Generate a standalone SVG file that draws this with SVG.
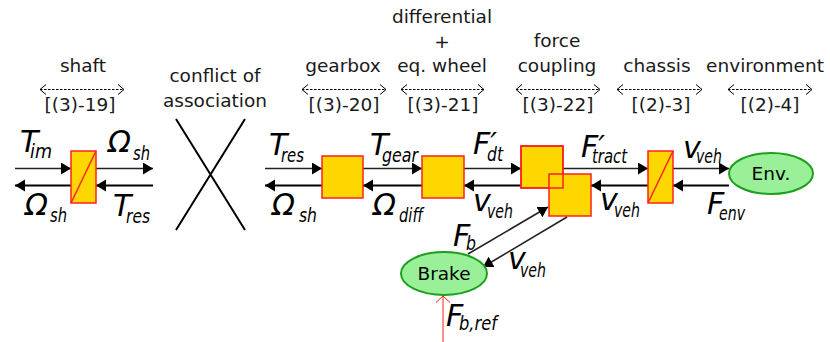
<svg xmlns="http://www.w3.org/2000/svg" width="830" height="342" viewBox="0 0 830 342">
<style>
.t{font-family:"DejaVu Sans",Verdana,sans-serif;font-size:18.5px;fill:#1a1a1a;text-anchor:middle}
.lb{font-family:"DejaVu Sans",Verdana,sans-serif;font-style:italic;font-size:30px;fill:#000}
.sb{font-family:"DejaVu Sans",Verdana,sans-serif;font-style:italic;font-size:19px;fill:#000}
.blk{fill:#ffd700;stroke:#ff2020;stroke-width:1.5}
.blko{fill:none;stroke:#ff2020;stroke-width:1.5}
.dia{stroke:#ff2020;stroke-width:1.5}
.ell{fill:#99f099;stroke:#1ea01e;stroke-width:2}
.et{font-family:"DejaVu Sans",Verdana,sans-serif;font-size:18.5px;fill:#000;text-anchor:middle}
.a{stroke:#000;stroke-width:2;fill:none;marker-end:url(#ah)}
.ta{stroke:#222;stroke-width:1.6;fill:none;marker-end:url(#ah)}
.d{stroke:#000;stroke-width:1;stroke-dasharray:2.5,1.5;fill:none;marker-start:url(#os);marker-end:url(#oe)}
</style>
<defs>
<marker id="ah" markerUnits="userSpaceOnUse" markerWidth="12" markerHeight="14" refX="10" refY="6" orient="auto"><path d="M0,0 L10,6 L0,12 z" fill="#000"/></marker>
<marker id="oe" markerUnits="userSpaceOnUse" markerWidth="10" markerHeight="12" refX="6.5" refY="6" orient="auto"><path d="M0.5,1 L6.5,6 L0.5,11" fill="none" stroke="#000" stroke-width="1"/></marker>
<marker id="os" markerUnits="userSpaceOnUse" markerWidth="10" markerHeight="12" refX="0.5" refY="6" orient="auto"><path d="M6.5,1 L0.5,6 L6.5,11" fill="none" stroke="#000" stroke-width="1"/></marker>
<marker id="rh" markerUnits="userSpaceOnUse" markerWidth="16" markerHeight="12" refX="8" refY="0.5" orient="0"><path d="M1,7 L8,0.5 L15,7" fill="none" stroke="#ff2020" stroke-width="1"/></marker>
</defs>

<g id="titles">
<text class="t" x="83" y="72">shaft</text>
<path class="d" d="M40,89.5 H124"/>
<text class="t" x="80" y="111">[(3)-19]</text>
<text class="t" x="215" y="82">conflict of</text>
<text class="t" x="215" y="107">association</text>
<text class="t" x="343" y="72">gearbox</text>
<path class="d" d="M302,89.5 H386"/>
<text class="t" x="344" y="111">[(3)-20]</text>
<text class="t" x="442" y="23">differential</text>
<text class="t" x="442" y="48">+</text>
<text class="t" x="442" y="72">eq. wheel</text>
<path class="d" d="M401,89.5 H484"/>
<text class="t" x="443" y="111">[(3)-21]</text>
<text class="t" x="557" y="47">force</text>
<text class="t" x="557" y="72">coupling</text>
<path class="d" d="M516,89.5 H600"/>
<text class="t" x="558" y="111">[(3)-22]</text>
<text class="t" x="657" y="72">chassis</text>
<path class="d" d="M617,89.5 H702"/>
<text class="t" x="661" y="111">[(2)-3]</text>
<text class="t" x="765" y="72">environment</text>
<path class="d" d="M728,89.5 H812"/>
<text class="t" x="770" y="111">[(2)-4]</text>
</g>

<g id="conflict">
<path d="M176,119 L245,230 M245,119 L176,230" stroke="#000" stroke-width="2" fill="none"/>
</g>

<g id="connectors">
<path class="ta" d="M15,168.5 H71"/>
<path class="ta" d="M96,168.5 H153"/>
<path class="a" d="M153,185.5 H96"/>
<path class="a" d="M71,185.5 H15"/>
<path class="ta" d="M265,168.5 H322"/>
<path class="ta" d="M363,168.5 H422"/>
<path class="ta" d="M464,168.5 H521"/>
<path class="ta" d="M563,168.5 H648"/>
<path class="ta" d="M673,168.5 H729"/>
<path class="a" d="M729,185.5 H673"/>
<path class="a" d="M648,185.5 H591"/>
<path class="a" d="M521,185.5 H464"/>
<path class="a" d="M422,185.5 H363"/>
<path class="a" d="M322,185.5 H265"/>
<path class="ta" d="M468,254 L548,207"/>
<path class="ta" d="M567,217 L483,267"/>
<path d="M443,342 V296" stroke="#ff2020" stroke-width="1" fill="none" marker-end="url(#rh)"/>
</g>

<g id="shaft"><rect class="blk" x="71" y="151" width="25" height="52"/><path class="dia" d="M71,203 L96,151"/></g>
<g id="gearbox"><rect class="blk" x="322" y="156" width="41" height="42"/></g>
<g id="differential"><rect class="blk" x="422" y="156" width="42" height="42"/></g>
<g id="forcecoupling"><rect class="blk" x="521" y="146" width="42" height="42"/><rect class="blk" x="549" y="174" width="42" height="42"/><rect class="blko" x="521" y="146" width="42" height="42"/></g>
<g id="chassis"><rect class="blk" x="648" y="151" width="25" height="52"/><path class="dia" d="M648,203 L673,151"/></g>
<g id="env"><ellipse class="ell" cx="771" cy="173.5" rx="42" ry="20.5"/><text class="et" x="771" y="180">Env.</text></g>
<g id="brake"><ellipse class="ell" cx="444" cy="273.5" rx="43" ry="21.5"/><text class="et" x="444" y="280">Brake</text></g>

<g id="labels">
<text class="lb" x="20" y="152">T</text><text class="sb" x="30" y="158" textLength="22" lengthAdjust="spacingAndGlyphs">im</text>
<text class="lb" x="108" y="152">Ω</text><text class="sb" x="133" y="160" textLength="17" lengthAdjust="spacingAndGlyphs">sh</text>
<text class="lb" x="25" y="215">Ω</text><text class="sb" x="50" y="222" textLength="17" lengthAdjust="spacingAndGlyphs">sh</text>
<text class="lb" x="113" y="216">T</text><text class="sb" x="126" y="223" textLength="24" lengthAdjust="spacingAndGlyphs">res</text>
<text class="lb" x="269" y="155">T</text><text class="sb" x="281" y="162" textLength="23" lengthAdjust="spacingAndGlyphs">res</text>
<text class="lb" x="370" y="155">T</text><text class="sb" x="382" y="162" textLength="36" lengthAdjust="spacingAndGlyphs">gear</text>
<text class="lb" x="473" y="154">F′</text><text class="sb" x="487" y="161" textLength="16" lengthAdjust="spacingAndGlyphs">dt</text>
<text class="lb" x="272" y="215">Ω</text><text class="sb" x="299" y="222" textLength="18" lengthAdjust="spacingAndGlyphs">sh</text>
<text class="lb" x="373" y="215">Ω</text><text class="sb" x="399" y="222" textLength="24" lengthAdjust="spacingAndGlyphs">diff</text>
<text class="lb" x="473" y="211">v</text><text class="sb" x="487" y="218" textLength="26" lengthAdjust="spacingAndGlyphs">veh</text>
<text class="lb" x="581" y="157">F′</text><text class="sb" x="592" y="163" textLength="35" lengthAdjust="spacingAndGlyphs">tract</text>
<text class="lb" x="683" y="158">v</text><text class="sb" x="696" y="163" textLength="26" lengthAdjust="spacingAndGlyphs">veh</text>
<text class="lb" x="600" y="210">v</text><text class="sb" x="614" y="217" textLength="26" lengthAdjust="spacingAndGlyphs">veh</text>
<text class="lb" x="707" y="214">F</text><text class="sb" x="719" y="220" textLength="26" lengthAdjust="spacingAndGlyphs">env</text>
<text class="lb" x="453" y="246">F</text><text class="sb" x="466" y="250" textLength="10" lengthAdjust="spacingAndGlyphs">b</text>
<text class="lb" x="508" y="269">v</text><text class="sb" x="520" y="277" textLength="26" lengthAdjust="spacingAndGlyphs">veh</text>
<text class="lb" x="446" y="326">F</text><text class="sb" x="459" y="330" textLength="38" lengthAdjust="spacingAndGlyphs">b,ref</text>
</g>
</svg>
